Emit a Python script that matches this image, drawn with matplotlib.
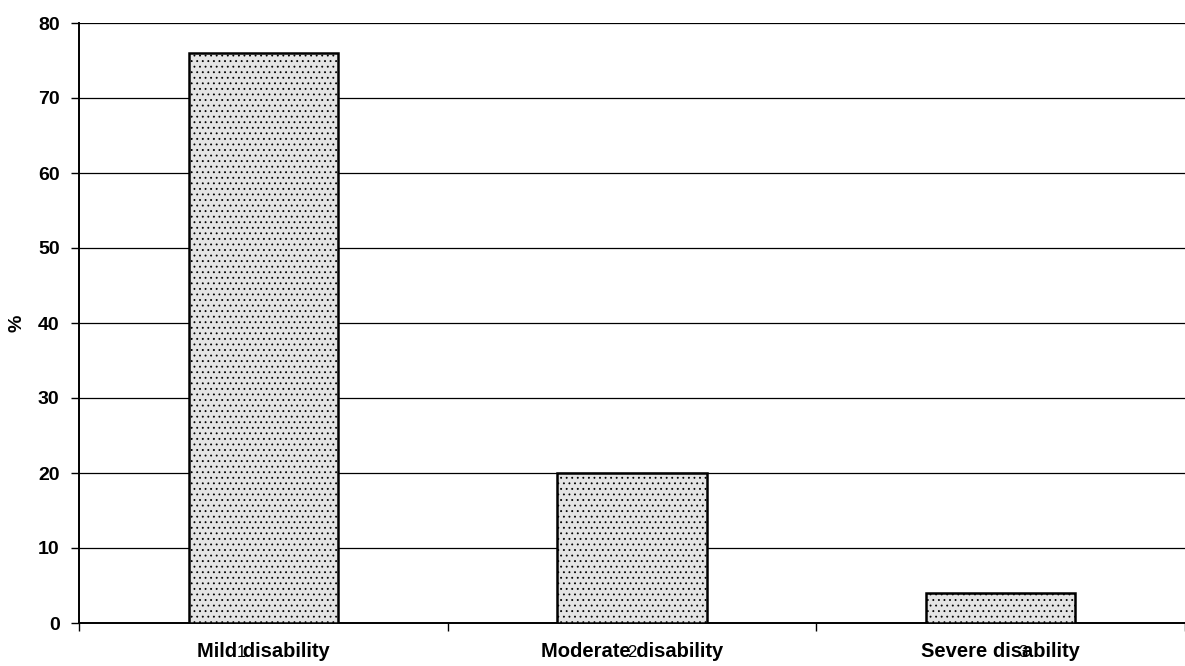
import matplotlib.pyplot as plt
import numpy as np

categories = ['Mild disability', 'Moderate disability', 'Severe disability']
tick_numbers = ['1', '2', '3']
percent = [76, 20, 4]

plt.rcParams['font.family'] = ['Liberation Sans', 'DejaVu Sans']
plt.rcParams['hatch.color'] = '#8a8a8a'
plt.rcParams['hatch.linewidth'] = 0.6

fig = plt.figure(figsize=(11.85, 6.66), dpi=100)
ax = fig.add_axes([79 / 1185, 43 / 666, (1185 - 79) / 1185, 600 / 666])

x = np.arange(len(categories))
ax.bar(x, percent, width=0.405, color='#e4e4e4', edgecolor='black', linewidth=1.8,
       hatch='...', zorder=3)

ax.set_xlim(-0.5, len(categories) - 0.5)
ax.set_ylim(0, 80)
ax.set_yticks(np.arange(0, 81, 10))
ax.tick_params(axis='y', labelsize=14, length=6, width=1, pad=8)
for lbl in ax.get_yticklabels():
    lbl.set_fontweight('bold')

ax.set_xticks(x)
ax.set_xticklabels(categories, fontsize=14.5, fontweight='bold')
ax.tick_params(axis='x', length=0, pad=14)
# category boundary ticks
ax.set_xticks(np.arange(len(categories) + 1) - 0.5, minor=True)
ax.tick_params(axis='x', which='minor', length=6, width=1)
# overprinted category numbers, as in the scan
for xi, t in zip(x, tick_numbers):
    ax.text(xi - 0.06 + 0.06 * xi, -2.9, t, ha='center', va='top', fontsize=12)

ax.grid(axis='y', color='black', linewidth=0.9, zorder=0)
ax.spines['right'].set_visible(False)
ax.spines['top'].set_visible(False)
ax.spines['left'].set_linewidth(1.4)
ax.spines['bottom'].set_linewidth(1.4)

ax.set_ylabel('%', fontsize=14, fontweight='bold', labelpad=9)

fig.savefig('out.png', dpi=100)
